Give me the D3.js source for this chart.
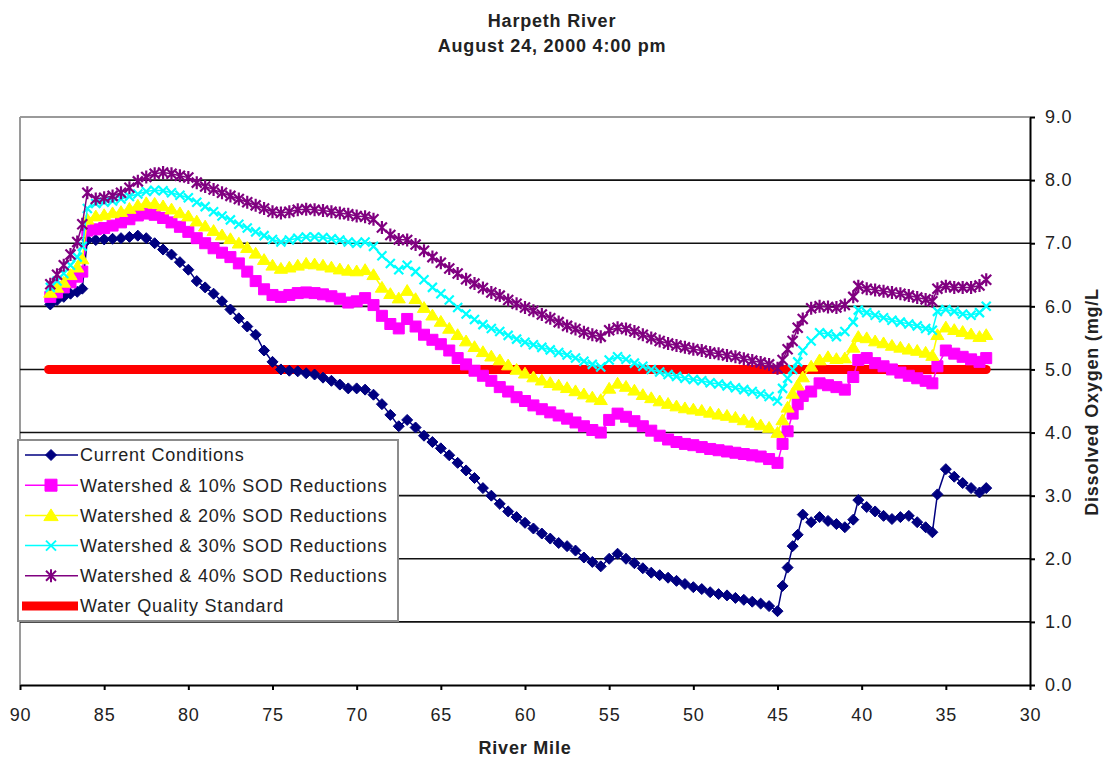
<!DOCTYPE html>
<html>
<head>
<meta charset="utf-8">
<script src="https://cdn.jsdelivr.net/npm/d3@7"></script>
<style>
body { margin: 0; background: #fff; }
text { font-family: "Liberation Sans", Arial, sans-serif; fill: #222; letter-spacing: 0.8px; }
</style>
</head>
<body>
<div id="chart"></div>
<script>
// river miles shared by all model series
var miles = [
	88.2, 87.8, 87.4, 87.0, 86.6, 86.3,
	86.0, 85.5, 85.0, 84.5, 84.0, 83.5, 83.0, 82.5, 82.0, 81.5,
	81.0, 80.5, 80.0, 79.5, 79.0, 78.5, 78.0, 77.5, 77.0, 76.5,
	76.0, 75.5, 75.0, 74.5, 74.0, 73.5, 73.0, 72.5, 72.0, 71.5,
	71.0, 70.5, 70.0, 69.5, 69.0, 68.5, 68.0, 67.5, 67.0, 66.5,
	66.0, 65.5, 65.0, 64.5, 64.0, 63.5, 63.0, 62.5, 62.0, 61.5,
	61.0, 60.5, 60.0, 59.5, 59.0, 58.5, 58.0, 57.5, 57.0, 56.5,
	56.0, 55.5, 55.0, 54.5, 54.0, 53.5, 53.0, 52.5, 52.0, 51.5,
	51.0, 50.5, 50.0, 49.5, 49.0, 48.5, 48.0, 47.5, 47.0, 46.5,
	46.0, 45.5, 45.0,
	44.7, 44.4, 44.1, 43.8, 43.5, 43.0, 42.5, 42.0, 41.5, 41.0, 40.5,
	40.2, 39.7, 39.2, 38.7, 38.2, 37.7, 37.2, 36.7, 36.2, 35.8,
	35.5, 35.0, 34.5, 34.0, 33.5, 33.0, 32.6
];

var current = [
	6.03, 6.1, 6.15, 6.2, 6.23, 6.28,
	7.05, 7.05, 7.06, 7.07, 7.08, 7.1, 7.12, 7.08, 7.0, 6.9,
	6.82, 6.7, 6.58, 6.4, 6.3, 6.2, 6.08, 5.95, 5.81, 5.68,
	5.55, 5.3, 5.12, 5.0, 4.98, 4.97, 4.94, 4.92, 4.87, 4.82,
	4.76, 4.7, 4.7, 4.68, 4.6, 4.45, 4.28, 4.1, 4.2, 4.08,
	3.95, 3.85, 3.75, 3.64, 3.52, 3.4, 3.28, 3.12, 3.0, 2.87,
	2.75, 2.66, 2.57, 2.48, 2.4, 2.32, 2.25, 2.2, 2.13, 2.02,
	1.95, 1.88, 2.0, 2.08, 2.0, 1.93, 1.85, 1.78, 1.74, 1.7,
	1.65, 1.6, 1.55, 1.52, 1.47, 1.44, 1.42, 1.38, 1.35, 1.32,
	1.29, 1.25, 1.17,
	1.57, 1.86, 2.2, 2.38, 2.7, 2.58, 2.66, 2.6, 2.55, 2.5, 2.62,
	2.93, 2.82, 2.75, 2.68, 2.63, 2.66, 2.68, 2.58, 2.5, 2.42,
	3.02, 3.42, 3.3, 3.2, 3.12, 3.05, 3.12
];

var sod10 = [
	6.15, 6.22, 6.3, 6.38, 6.47, 6.55,
	7.2, 7.22, 7.24, 7.28, 7.33, 7.38, 7.44, 7.47, 7.45, 7.4,
	7.33, 7.26, 7.18, 7.08, 7.0, 6.92, 6.85, 6.78, 6.68, 6.55,
	6.4, 6.27, 6.18, 6.15, 6.18, 6.21, 6.22, 6.21, 6.19, 6.16,
	6.12, 6.06, 6.08, 6.13, 6.02, 5.85, 5.72, 5.65, 5.8, 5.68,
	5.55, 5.47, 5.4, 5.3, 5.18, 5.08, 4.98, 4.9, 4.82, 4.72,
	4.65, 4.56, 4.5, 4.43, 4.37, 4.32, 4.27, 4.22, 4.16, 4.1,
	4.04, 4.0, 4.2, 4.3, 4.25, 4.18, 4.1, 4.03, 3.95, 3.89,
	3.85, 3.82, 3.8, 3.77, 3.74, 3.72, 3.7, 3.68, 3.66, 3.64,
	3.62, 3.58, 3.52,
	3.82, 4.02, 4.3, 4.45, 4.58, 4.65, 4.78, 4.75, 4.72, 4.68, 4.88,
	5.15, 5.18, 5.1, 5.05, 5.0, 4.95, 4.9, 4.86, 4.82, 4.78,
	5.05, 5.3, 5.25, 5.2, 5.16, 5.12, 5.18
];

var sod20 = [
	6.22, 6.3, 6.38, 6.5, 6.62, 6.75,
	7.38, 7.43, 7.45, 7.48, 7.5, 7.55, 7.6, 7.64, 7.63, 7.59,
	7.54, 7.48, 7.43, 7.35, 7.27, 7.2, 7.13, 7.07, 7.0, 6.93,
	6.84, 6.74, 6.65, 6.6, 6.62, 6.65, 6.68, 6.67, 6.65, 6.62,
	6.59, 6.57, 6.56, 6.58, 6.5, 6.3, 6.2, 6.13, 6.25, 6.12,
	5.98, 5.86, 5.76, 5.65, 5.55, 5.45, 5.36, 5.28, 5.21, 5.15,
	5.07, 5.0, 4.94, 4.88, 4.83, 4.79, 4.75, 4.71, 4.66, 4.61,
	4.56, 4.52, 4.7, 4.78, 4.73, 4.67, 4.6, 4.55, 4.5, 4.46,
	4.42, 4.39, 4.37, 4.35, 4.32, 4.29, 4.27, 4.24, 4.2, 4.16,
	4.12, 4.08, 4.0,
	4.2, 4.4, 4.62, 4.75, 4.88, 5.05, 5.15, 5.2, 5.17, 5.18, 5.35,
	5.52, 5.5, 5.45, 5.42, 5.38, 5.35, 5.32, 5.3, 5.27, 5.22,
	5.55, 5.67, 5.63, 5.6, 5.56, 5.52, 5.55
];

var sod30 = [
	6.3, 6.4, 6.52, 6.65, 6.78, 6.95,
	7.55, 7.63, 7.65, 7.67, 7.7, 7.74, 7.78, 7.82, 7.84, 7.83,
	7.8, 7.76, 7.72, 7.65, 7.58, 7.5, 7.43, 7.37, 7.3, 7.24,
	7.18, 7.12, 7.06, 7.02, 7.05, 7.08, 7.1, 7.1, 7.09, 7.07,
	7.05, 7.02, 7.0, 7.02, 6.95, 6.8, 6.68, 6.58, 6.65, 6.55,
	6.42, 6.3, 6.2, 6.1, 5.98, 5.88, 5.79, 5.71, 5.65, 5.6,
	5.54, 5.48, 5.43, 5.39, 5.35, 5.31, 5.27, 5.23, 5.18, 5.13,
	5.08, 5.04, 5.15, 5.2, 5.16, 5.1, 5.05, 5.0, 4.96, 4.92,
	4.89, 4.86, 4.84, 4.82, 4.79, 4.77, 4.74, 4.71, 4.68, 4.65,
	4.61, 4.57, 4.5,
	4.7, 4.86, 5.0, 5.12, 5.3, 5.45, 5.58, 5.56, 5.52, 5.6, 5.75,
	5.94, 5.9, 5.86, 5.82, 5.78, 5.75, 5.72, 5.69, 5.65, 5.62,
	5.92, 5.95, 5.92, 5.88, 5.86, 5.9, 6.0
];

var sod40 = [
	6.35, 6.5, 6.65, 6.82, 7.02, 7.3,
	7.8, 7.7, 7.72, 7.75, 7.8, 7.88, 7.98, 8.05, 8.1, 8.12,
	8.1, 8.07, 8.04, 7.96, 7.9, 7.85, 7.8, 7.75, 7.7, 7.65,
	7.6, 7.55, 7.5, 7.48, 7.5, 7.53, 7.54, 7.53, 7.52, 7.5,
	7.48, 7.46, 7.43, 7.42, 7.38, 7.25, 7.13, 7.06, 7.05, 6.98,
	6.88, 6.78, 6.69, 6.6, 6.52, 6.43, 6.36, 6.29, 6.22, 6.17,
	6.1, 6.04, 5.98, 5.93, 5.87, 5.81, 5.75, 5.69, 5.64, 5.59,
	5.55, 5.52, 5.62, 5.66, 5.64, 5.6, 5.55, 5.5, 5.45, 5.41,
	5.38, 5.35, 5.32, 5.3, 5.27, 5.25, 5.22, 5.2, 5.17, 5.14,
	5.11, 5.08, 5.02,
	5.15, 5.32, 5.45, 5.66, 5.8, 5.97, 6.0, 5.99, 5.98, 6.02, 6.15,
	6.32, 6.28, 6.26, 6.24, 6.22, 6.2, 6.17, 6.14, 6.11, 6.08,
	6.28, 6.32, 6.3, 6.3, 6.3, 6.33, 6.42
];

var standardMiles = [88.3, 32.6];
var standardValues = [5.0, 5.0];

var xTicks = [90, 85, 80, 75, 70, 65, 60, 55, 50, 45, 40, 35, 30];
var yTicks = [0, 1, 2, 3, 4, 5, 6, 7, 8, 9];
var seriesNames = ["Current Conditions", "Watershed & 10% SOD Reductions", "Watershed & 20% SOD Reductions",
	"Watershed & 30% SOD Reductions", "Watershed & 40% SOD Reductions", "Water Quality Standard"];

// excel-like markers, "size" here is the half width in pixels
var markDiamond = {draw: function(c, r){ c.moveTo(0, -r); c.lineTo(r, 0); c.lineTo(0, r); c.lineTo(-r, 0); c.closePath(); }};
var markSquare = {draw: function(c, r){ c.rect(-r, -r, 2 * r, 2 * r); }};
var markTriangle = {draw: function(c, r){ c.moveTo(0, -r); c.lineTo(r * 1.1, r * 0.8); c.lineTo(-r * 1.1, r * 0.8); c.closePath(); }};
var markX = {draw: function(c, r){ c.moveTo(-r, -r); c.lineTo(r, r); c.moveTo(-r, r); c.lineTo(r, -r); }};
var markStar = {draw: function(c, r){
	c.moveTo(-r, -r); c.lineTo(r, r); c.moveTo(-r, r); c.lineTo(r, -r);
	c.moveTo(0, -r * 1.3); c.lineTo(0, r * 1.3);
}};

var series = [
	{values: current, color: "#000080", symbol: markDiamond, r: 5.5, lr: 5.5, fill: true},
	{values: sod10, color: "#ff00ff", symbol: markSquare, r: 5.5, lr: 6, fill: true},
	{values: sod20, color: "#ffff00", symbol: markTriangle, r: 6, lr: 6.5, fill: true},
	{values: sod30, color: "#00ffff", symbol: markX, r: 4.5, lr: 5, fill: false},
	{values: sod40, color: "#800080", symbol: markStar, r: 5, lr: 5, fill: false}
];

var w = 1105, h = 759;
var plotLeft = 20, plotRight = 1030, plotTop = 117, plotBottom = 685;

var svg = d3.select("#chart").append("svg")
	.attr("width", w)
	.attr("height", h);

var x = d3.scaleLinear().domain([90, 30]).range([plotLeft, plotRight]);
var y = d3.scaleLinear().domain([0, 9]).range([plotBottom, plotTop]);

// titles
svg.append("text").attr("x", 552).attr("y", 27).attr("text-anchor", "middle")
	.style("font-size", "18px").style("font-weight", "bold").text("Harpeth River");
svg.append("text").attr("x", 552).attr("y", 52).attr("text-anchor", "middle")
	.style("font-size", "18px").style("font-weight", "bold").text("August 24, 2000 4:00 pm");

// plot frame, top and left in gray
svg.append("line").attr("x1", plotLeft).attr("x2", plotRight).attr("y1", plotTop).attr("y2", plotTop)
	.attr("stroke", "#9a9a9a").attr("stroke-width", 2);
svg.append("line").attr("x1", plotLeft).attr("x2", plotLeft).attr("y1", plotTop).attr("y2", plotBottom)
	.attr("stroke", "#9a9a9a").attr("stroke-width", 2);

// gridlines
svg.selectAll(".grid")
	.data(yTicks.filter(function(d){ return d > 0 && d < 9; }))
	.enter().append("line")
	.attr("class", "grid")
	.attr("x1", plotLeft).attr("x2", plotRight)
	.attr("y1", function(d){ return y(d); })
	.attr("y2", function(d){ return y(d); })
	.attr("stroke", "#111")
	.attr("stroke-width", 1.6);

// axes
var xAxis = svg.append("g")
	.attr("transform", "translate(0," + plotBottom + ")")
	.call(d3.axisBottom(x).tickValues(xTicks).tickSize(5).tickPadding(18).tickSizeOuter(0).tickFormat(d3.format("d")));
var yAxis = svg.append("g")
	.attr("transform", "translate(" + plotRight + ",0)")
	.call(d3.axisRight(y).tickValues(yTicks).tickSize(5).tickPadding(10).tickSizeOuter(0).tickFormat(d3.format(".1f")));
[xAxis, yAxis].forEach(function(g){
	g.selectAll("path, line").attr("stroke", "#000").attr("stroke-width", 2);
	g.selectAll("text").style("font-size", "18px").style("font-family", null).attr("fill", "#333");
});

svg.append("text").attr("x", 525).attr("y", 754).attr("text-anchor", "middle")
	.style("font-size", "18px").style("font-weight", "bold").text("River Mile");
svg.append("text").attr("transform", "translate(1098,402) rotate(-90)").attr("text-anchor", "middle")
	.style("font-size", "18px").style("font-weight", "bold").text("Dissolved Oxygen (mg/L");

// water quality standard
var line = d3.line()
	.x(function(d){ return x(d[0]); })
	.y(function(d){ return y(d[1]); });

svg.append("path")
	.datum(d3.zip(standardMiles, standardValues))
	.attr("d", line)
	.attr("fill", "none")
	.attr("stroke", "#ff0000")
	.attr("stroke-width", 9)
	.attr("stroke-linecap", "round");

// model series
var k;
for (k = 0; k < series.length; k++){
	var s = series[k];
	var pts = d3.zip(miles, s.values);
	var g = svg.append("g");
	g.append("path")
		.datum(pts)
		.attr("d", line)
		.attr("fill", "none")
		.attr("stroke", s.color)
		.attr("stroke-width", 1.5);
	g.selectAll("path.mark")
		.data(pts)
		.enter().append("path")
		.attr("class", "mark")
		.attr("transform", function(d){ return "translate(" + x(d[0]) + "," + y(d[1]) + ")"; })
		.attr("d", d3.symbol().type(s.symbol).size(s.r))
		.attr("fill", s.fill ? s.color : "none")
		.attr("stroke", s.color)
		.attr("stroke-width", s.fill ? 1 : 2.2);
}

// legend
var legend = svg.append("g");
legend.append("rect")
	.attr("x", 18).attr("y", 440).attr("width", 380).attr("height", 181)
	.attr("fill", "#fff").attr("stroke", "#8c8c8c").attr("stroke-width", 2);

var rows = legend.selectAll(".row")
	.data(seriesNames)
	.enter().append("g")
	.attr("class", "row")
	.attr("transform", function(d, i){ return "translate(0," + (455 + i * 30.2) + ")"; });

rows.append("line")
	.attr("x1", function(d, i){ return i == 5 ? 22 : 25; })
	.attr("x2", 78)
	.attr("stroke", function(d, i){ return i == 5 ? "#ff0000" : series[i].color; })
	.attr("stroke-width", function(d, i){ return i == 5 ? 9 : 1.5; });

rows.filter(function(d, i){ return i < 5; })
	.append("path")
	.attr("transform", "translate(51,0)")
	.attr("d", function(d, i){ return d3.symbol().type(series[i].symbol).size(series[i].lr)(); })
	.attr("fill", function(d, i){ return series[i].fill ? series[i].color : "none"; })
	.attr("stroke", function(d, i){ return series[i].color; })
	.attr("stroke-width", function(d, i){ return series[i].fill ? 1 : 2; });

rows.append("text")
	.attr("x", 80)
	.attr("dy", "0.35em")
	.style("font-size", "18px")
	.text(String);
</script>
</body>
</html>
